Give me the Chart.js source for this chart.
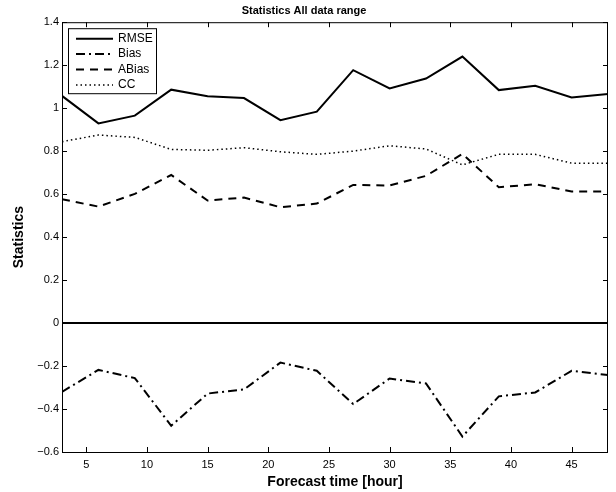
<!DOCTYPE html>
<html>
<head>
<meta charset="utf-8">
<script src="https://cdn.jsdelivr.net/npm/chart.js@4/dist/chart.umd.min.js"></script>
<style>
  html, body { margin: 0; padding: 0; background: #fff; }
  #wrap { width: 616px; height: 492px; }
</style>
</head>
<body>
<div id="wrap"><canvas id="statsChart" width="616" height="492"></canvas></div>
<script>
// forecast hours and statistics
const hours = [3, 6, 9, 12, 15, 18, 21, 24, 27, 30, 33, 36, 39, 42, 45, 48];
const rmse  = [1.057, 0.929, 0.965, 1.086, 1.055, 1.047, 0.944, 0.984, 1.177, 1.092, 1.138, 1.240, 1.084, 1.104, 1.050, 1.066];
const bias  = [-0.320, -0.218, -0.256, -0.478, -0.328, -0.309, -0.184, -0.222, -0.377, -0.258, -0.281, -0.528, -0.341, -0.323, -0.222, -0.242];
const abias = [0.576, 0.542, 0.601, 0.689, 0.570, 0.584, 0.539, 0.556, 0.643, 0.640, 0.685, 0.787, 0.632, 0.646, 0.612, 0.612];
const cc    = [0.844, 0.875, 0.864, 0.808, 0.804, 0.816, 0.797, 0.785, 0.800, 0.825, 0.810, 0.736, 0.785, 0.785, 0.744, 0.744];
const xTicks = [5, 10, 15, 20, 25, 30, 35, 40, 45];
const yTicks = [-0.6, -0.4, -0.2, 0, 0.2, 0.4, 0.6, 0.8, 1, 1.2, 1.4];

const FONT = 'Liberation Sans, Arial, Helvetica, sans-serif';

function pts(vals) {
    return vals.map((v, i) => ({ x: hours[i], y: v }));
}

const seriesStyle = [
    { label: 'RMSE',  data: rmse,  dash: [],            width: 2 },
    { label: 'Bias',  data: bias,  dash: [9, 4, 2, 4],  width: 2 },
    { label: 'ABias', data: abias, dash: [8, 6],        width: 2 },
    { label: 'CC',    data: cc,    dash: [1.5, 3],      width: 1.5 }
];

// box around the axes, inward tick marks, zero line and the inset legend
const matlabAxes = {
    id: 'matlabAxes',
    afterDatasetsDraw(chart) {
        const { ctx, chartArea: a, scales: { x, y } } = chart;
        ctx.save();
        ctx.strokeStyle = '#000';
        ctx.setLineDash([]);

        // zero line
        ctx.lineWidth = 2;
        const y0 = Math.round(y.getPixelForValue(0));
        ctx.beginPath();
        ctx.moveTo(a.left, y0);
        ctx.lineTo(a.right, y0);
        ctx.stroke();

        // frame
        ctx.lineWidth = 1;
        ctx.strokeRect(a.left + 0.5, a.top + 0.5, a.right - a.left - 1, a.bottom - a.top);

        // ticks pointing in
        const tl = 5;
        ctx.beginPath();
        xTicks.forEach(t => {
            const px = Math.round(x.getPixelForValue(t)) + 0.5;
            ctx.moveTo(px, a.bottom); ctx.lineTo(px, a.bottom - tl);
            ctx.moveTo(px, a.top);    ctx.lineTo(px, a.top + tl);
        });
        yTicks.forEach(t => {
            const py = Math.round(y.getPixelForValue(t)) + 0.5;
            ctx.moveTo(a.left, py);  ctx.lineTo(a.left + tl, py);
            ctx.moveTo(a.right, py); ctx.lineTo(a.right - tl, py);
        });
        ctx.stroke();

        // legend box
        const lx = a.left + 6, ly = a.top + 6, lw = 88, lh = 65;
        ctx.fillStyle = '#fff';
        ctx.fillRect(lx, ly, lw, lh);
        ctx.strokeRect(lx + 0.5, ly + 0.5, lw, lh);
        ctx.font = '12px ' + FONT;
        ctx.textBaseline = 'middle';
        seriesStyle.forEach((s, i) => {
            const cy = ly + 10.5 + i * 15.4;
            ctx.lineWidth = s.width;
            ctx.setLineDash(s.dash);
            ctx.beginPath();
            ctx.moveTo(lx + 8, cy);
            ctx.lineTo(lx + 45, cy);
            ctx.stroke();
            ctx.setLineDash([]);
            ctx.fillStyle = '#000';
            ctx.fillText(s.label, lx + 50, cy);
        });
        ctx.restore();
    }
};

new Chart(document.getElementById('statsChart'), {
    type: 'line',
    data: {
        datasets: seriesStyle.map(s => ({
            label: s.label,
            data: pts(s.data),
            borderColor: '#000',
            borderWidth: s.width,
            borderDash: s.dash,
            pointRadius: 0,
            tension: 0,
            fill: false
        }))
    },
    options: {
        responsive: false,
        animation: false,
        layout: { padding: { left: 0, right: 8, top: 0, bottom: 0 } },
        plugins: {
            legend: { display: false },
            tooltip: { enabled: false },
            title: {
                display: true,
                text: 'Statistics All data range',
                color: '#000',
                font: { family: FONT, size: 11, weight: 'bold', lineHeight: 1.2 },
                padding: { top: 4, bottom: 5 }
            }
        },
        scales: {
            x: {
                type: 'linear',
                min: 3,
                max: 48,
                grid: { display: false, drawTicks: false },
                border: { display: false },
                afterBuildTicks: axis => { axis.ticks = xTicks.map(v => ({ value: v })); },
                afterFit: axis => { axis.height = 40; },
                ticks: {
                    color: '#000',
                    padding: 6,
                    font: { family: FONT, size: 11 },
                    callback: v => String(v),
                    maxRotation: 0
                },
                title: {
                    display: true,
                    text: 'Forecast time [hour]',
                    color: '#000',
                    font: { family: FONT, size: 14, weight: 'bold' },
                    padding: { top: 0, bottom: 1 }
                }
            },
            y: {
                type: 'linear',
                min: -0.6,
                max: 1.4,
                grid: { display: false, drawTicks: false },
                border: { display: false },
                afterBuildTicks: axis => { axis.ticks = yTicks.map(v => ({ value: v })); },
                afterFit: axis => { axis.width = 62; },
                ticks: {
                    color: '#000',
                    padding: 3,
                    font: { family: FONT, size: 11 },
                    callback: v => String(+(+v).toFixed(1)).replace('-', '\u2212')
                },
                title: {
                    display: true,
                    text: 'Statistics',
                    color: '#000',
                    font: { family: FONT, size: 14, weight: 'bold' },
                    padding: { top: 11, bottom: 0 }
                }
            }
        }
    },
    plugins: [matlabAxes]
});
</script>
</body>
</html>
